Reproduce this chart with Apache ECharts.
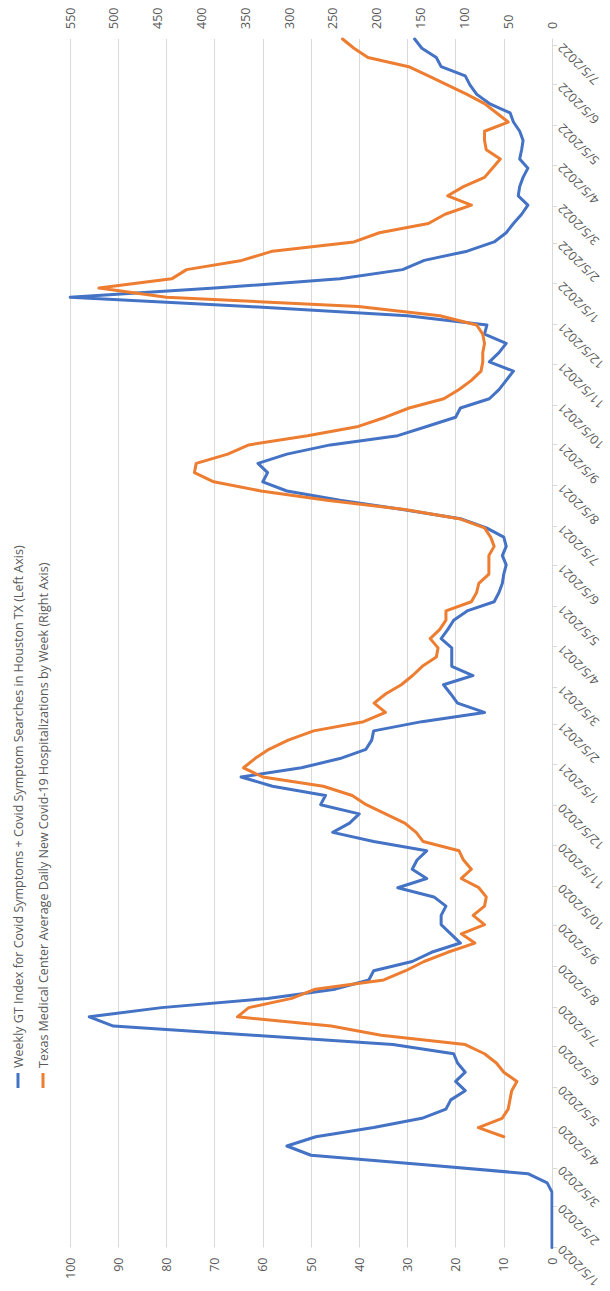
<!DOCTYPE html>
<html>
<head>
<meta charset="utf-8">
<script src="https://cdn.jsdelivr.net/npm/echarts@6/dist/echarts.min.js"></script>
<style>
  html, body { margin: 0; padding: 0; background: #fff; overflow: hidden; width: 610px; height: 1291px; }
  /* The chart is laid out landscape and turned a quarter turn counter-clockwise onto the portrait page. */
  #chart { position: absolute; left: 0; top: 0; width: 1291px; height: 610px;
           transform-origin: 0 0; transform: translateY(1291px) rotate(-90deg); }
</style>
</head>
<body>
<div id="chart"></div>
<script>
// Weekly observations, one per Sunday starting 1/5/2020 (week 0) through 7/10/2022 (week 131).
const startYear = 2020, startMonth = 0, startDay = 5;

// Google Trends index for Covid symptom searches in Houston (left axis, 0-100).
const searchIndex = [
  0, 0, 0, 0, 0, 0, 0, 1, 5, 27,
  50, 55, 49, 37, 27, 22, 21, 18, 20, 18,
  19.6, 20.4, 33, 62, 91, 96, 81, 59, 45, 38,
  37, 29, 25, 19, 21, 23, 23, 22, 24.5, 32,
  26, 29, 28, 26, 37, 45.5, 42, 40, 48, 47,
  58, 64.5, 52, 44, 38.6, 37.4, 37, 27, 14, 19.6,
  21, 22.5, 16.4, 20.8, 20.8, 20.8, 23, 21.6, 20.4, 17.6,
  12, 11, 10.3, 10, 9.5, 10.3, 9.5, 10, 13.6, 19,
  31, 44, 55, 60, 59, 61, 55, 46, 32, 26,
  20, 19, 13, 11, 9.5, 8, 13, 11, 9.5, 14,
  13.5, 30, 63, 100, 70, 44, 31, 26.5, 17.6, 12,
  9.5, 8, 6.3, 5, 7, 6.7, 6, 5, 6.7, 6.3,
  6, 6.7, 8, 8.7, 13, 15.6, 17, 18, 23, 24,
  27, 28.5
];

// Texas Medical Center average daily new Covid-19 hospitalizations (right axis, 0-550).
// Reporting begins with week 12 (3/29/2020).
const hospitalizations = [
  null, null, null, null, null, null, null, null, null, null,
  null, null, 55, 84, 57, 50, 48, 46, 40, 55,
  63.5, 77, 99, 195, 252, 359, 346, 297, 270, 192,
  167, 146, 119, 88, 103.5, 77, 90, 77, 75, 83.5,
  103.5, 92, 101, 106, 147, 155, 168, 190, 212, 228,
  261, 330, 352, 339, 323, 301, 272, 215, 190, 203,
  190, 172, 159, 148, 132, 130, 139, 128, 121, 121,
  92, 86, 83.5, 72, 72, 72, 66, 70, 77, 106,
  168, 257, 332, 386, 408, 406, 370, 346, 279, 221,
  190, 163, 123.5, 106, 92, 81, 79, 79, 77, 79,
  86, 128, 221, 440, 517, 434, 417, 354, 319, 226,
  197, 141, 122, 92, 119, 101, 77, 68, 59, 75,
  77, 77, 50, 63.5, 77, 97, 119, 141, 163.5, 210,
  226, 239
];

const leftTicks = { min: 0, max: 100, interval: 10 };
const rightTicks = { min: 0, max: 550, interval: 50 };

const seriesNames = [
  'Weekly GT Index for Covid Symptoms + Covid Symptom Searches in Houston TX (Left Axis)',
  'Texas Medical Center Average Daily New Covid-19 Hospitalizations by Week (Right Axis)'
];

// Daily date axis so month ticks can sit on the 5th while points fall on Sundays.
const totalDays = (searchIndex.length - 1) * 7;
const days = [];
for (let i = 0; i <= totalDays; i++) {
  const d = new Date(startYear, startMonth, startDay + i);
  days.push((d.getMonth() + 1) + '/' + d.getDate() + '/' + d.getFullYear());
}
function onDays(weekly) {
  const out = new Array(days.length).fill(null);
  weekly.forEach((v, w) => { out[w * 7] = v; });
  return out;
}
const isMonthTick = (idx, label) => label.split('/')[1] === '5';

const chart = echarts.init(document.getElementById('chart'), null, { renderer: 'svg' });
const axisFont = { color: '#595959', fontSize: 12.5, fontFamily: 'Open Sans, Liberation Sans, sans-serif' };

chart.setOption({
  animation: false,
  backgroundColor: '#ffffff',
  color: ['#4472C4', '#ED7D31'],
  legend: {
    orient: 'vertical',
    left: 198,
    top: 5,
    icon: 'rect',
    itemWidth: 15,
    itemHeight: 3,
    itemGap: 9,
    textStyle: { color: '#595959', fontSize: 12.5, lineHeight: 16,
                 fontFamily: 'Open Sans, Liberation Sans, sans-serif' },
    data: seriesNames
  },
  grid: { left: 43, right: 39, top: 70, bottom: 58, containLabel: false },
  xAxis: {
    type: 'category',
    data: days,
    boundaryGap: false,
    axisLine: { lineStyle: { color: '#d9d9d9', width: 1 } },
    axisTick: { show: true, interval: isMonthTick, length: 5, lineStyle: { color: '#d9d9d9' } },
    axisLabel: Object.assign({ interval: isMonthTick, rotate: 45, margin: 8 }, axisFont),
    splitLine: { show: false }
  },
  yAxis: [
    Object.assign({
      type: 'value',
      position: 'left',
      axisLine: { show: false },
      axisTick: { show: false },
      axisLabel: Object.assign({ margin: 10 }, axisFont),
      splitLine: { show: true, lineStyle: { color: '#d9d9d9', width: 1 } }
    }, leftTicks),
    Object.assign({
      type: 'value',
      position: 'right',
      axisLine: { show: false },
      axisTick: { show: false },
      axisLabel: Object.assign({ margin: 10 }, axisFont),
      splitLine: { show: false }
    }, rightTicks)
  ],
  series: [
    {
      name: seriesNames[0],
      type: 'line',
      yAxisIndex: 0,
      data: onDays(searchIndex),
      connectNulls: true,
      showSymbol: false,
      symbol: 'none',
      lineStyle: { width: 3, color: '#4472C4', join: 'round', cap: 'round' }
    },
    {
      name: seriesNames[1],
      type: 'line',
      yAxisIndex: 1,
      data: onDays(hospitalizations),
      connectNulls: true,
      showSymbol: false,
      symbol: 'none',
      lineStyle: { width: 3, color: '#ED7D31', join: 'round', cap: 'round' }
    }
  ]
});
</script>
</body>
</html>
